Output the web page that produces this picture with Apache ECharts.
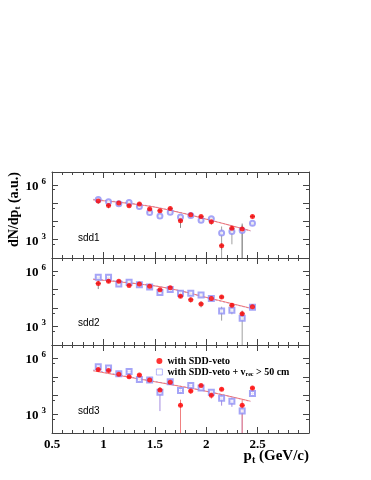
<!DOCTYPE html>
<html><head><meta charset="utf-8">
<script src="https://cdn.jsdelivr.net/npm/echarts@6/dist/echarts.min.js"></script>
<style>html,body{margin:0;padding:0;background:#fff}#c{width:371px;height:480px}</style>
</head><body><div id="c"></div>
<script>
// ---------- data ----------
const ptBins = [0.95,1.05,1.15,1.25,1.35,1.45,1.55,1.65,1.75,1.85,1.95,2.05,2.15,2.25,2.35,2.45];
const xTickValues = [0.5,1,1.5,2,2.5];
const xTickLabels = ['0.5','1','1.5','2','2.5'];
const yTickValues = [1e3,1e6];
const yTickExp = ['3','6'];
const panelNames = ['sdd1','sdd2','sdd3'];
const legendNames = ['with SDD-veto','with SDD-veto + v_rec > 50 cm'];

// with SDD-veto (red filled circles)
const vetoSdd1 = [1.29e5,7.4e4,1.0e5,7.1e4,8.9e4,4.7e4,3.8e4,5.1e4,1.1e4,2.3e4,1.86e4,9.5e3,470,4.2e3,3.8e3,1.86e4];
const vetoSdd2 = [2.1e5,2.8e5,2.8e5,1.66e5,1.95e5,1.51e5,9.5e4,1.23e5,4.3e4,2.8e4,1.66e4,3.2e4,3.9e4,1.41e4,4.8e3,1.17e4];
const vetoSdd3 = [2.45e5,2.2e5,1.38e5,1.0e5,1.26e5,6.8e4,2.0e4,5.1e4,3.0e3,1.74e4,3.4e4,1.05e4,2.2e4,null,3.0e3,2.5e4];
// with SDD-veto + v_rec > 50 cm (blue open markers)
const vetoRecSdd1 = [1.58e5,1.17e5,9.1e4,1.07e5,6.6e4,3.1e4,2.0e4,3.2e4,1.74e4,2.1e4,1.17e4,1.41e4,2.3e3,2.8e3,3.2e3,7.8e3];
const vetoRecSdd2 = [4.5e5,4.5e5,1.95e5,2.45e5,1.78e5,1.35e5,6.9e4,1.0e5,6.3e4,6.2e4,5.0e4,3.2e4,6.9e3,7.6e3,2.8e3,1.1e4];
const vetoRecSdd3 = [3.5e5,3.0e5,1.48e5,1.9e5,7.1e4,6.8e4,1.48e4,5.5e4,1.86e4,3.4e4,2.5e4,1.48e4,7.2e3,5.0e3,1.5e3,1.29e4];

// relative vertical errors
const vetoErr1 = [0.3,0.3,0.15,0.15,0.2,0.15,0.15,0.25,0.6,0.15,0.2,0.3,0.4,0.4,1.0,0.2];
const vetoErr2 = [0.5,0.2,0.15,0.15,0.15,0.15,0.15,0.2,0.2,0.3,0.35,0.2,0.2,0.3,0.5,0.2];
const vetoErr3 = [0.2,0.2,0.15,0.15,0.15,0.15,0.3,0.15,1.0,0.3,0.2,0.35,0.2,0,1.0,0.2];
const vetoRecErr1 = [0.2,0.15,0.15,0.15,0.15,0.15,0.15,0.15,0.2,0.15,0.2,0.2,1.3,0.8,1.0,0.2];
const vetoRecErr2 = [0.15,0.15,0.15,0.15,0.15,0.15,0.15,0.15,0.2,0.2,0.2,0.2,0.7,0.4,1.2,0.2];
const vetoRecErr3 = [0.15,0.15,0.15,0.15,0.15,0.15,0.9,0.15,0.3,0.2,0.2,0.2,0.6,0.5,1.2,0.2];

// fit curves
const fitPt = [0.9,1.35,1.65,2.05,2.43];
const fitVeto1 = [1.5e5,8.1e4,4.0e4,1.12e4,3.1e3];
const fitVeto2 = [3.5e5,1.95e5,1.1e5,3.2e4,9.8e3];
const fitVeto3 = [2.1e5,7.6e4,3.9e4,1.48e4,5.0e3];
const fitVetoRec1 = [1.6e5,8.4e4,4.1e4,1.15e4,3.0e3];
const fitVetoRec2 = [3.7e5,2.0e5,1.1e5,3.1e4,9.5e3];
const fitVetoRec3 = [2.3e5,8.0e4,4.0e4,1.5e4,4.8e3];

// ---------- build ----------
const Y_MIN = 100, Y_MAX = 5e6, X_MIN = 0.5, X_MAX = 3.0, HALF_BIN = 0.025;
const SERIF = '"Liberation Serif","Times New Roman",serif';
const SANS = '"Liberation Sans",Arial,sans-serif';
const BLUE = '#8f8ff5';
const panels = [
  {veto: vetoSdd1, rec: vetoRecSdd1, vErr: vetoErr1, rErr: vetoRecErr1, fv: fitVeto1, fr: fitVetoRec1, recSymbol:'emptyCircle',
   vBar:'#8a8a8a', rBar:'#a0a0a0'},
  {veto: vetoSdd2, rec: vetoRecSdd2, vErr: vetoErr2, rErr: vetoRecErr2, fv: fitVeto2, fr: fitVetoRec2, recSymbol:'emptyRect',
   vBar:'#8a8a8a', rBar:'#a0a0a0'},
  {veto: vetoSdd3, rec: vetoRecSdd3, vErr: vetoErr3, rErr: vetoRecErr3, fv: fitVeto3, fr: fitVetoRec3, recSymbol:'emptyRect',
   vBar:'#f08080', rBar:'#a58be0'}
];
const grids = [
  {left:52, right:62, top:172, height:86},
  {left:52, right:62, top:258, height:87},
  {left:52, right:62, top:345, height:88}
];

const xAxes = [], yAxes = [], series = [];
const axisLineStyle = {color:'#444', width:1};
panels.forEach((p, i) => {
  ['bottom','top'].forEach(pos => {
    xAxes.push({
      gridIndex:i, type:'value', min:X_MIN, max:X_MAX, interval:0.5, position:pos,
      axisLine:{show:true, onZero:false, lineStyle:axisLineStyle},
      axisTick:{show:true, inside:true, length:6, lineStyle:{color:'#444'}},
      minorTick:{show:true, splitNumber:5, length:3, lineStyle:{color:'#444'}},
      splitLine:{show:false},
      axisLabel:{show: i===2 && pos==='bottom', margin:5, color:'#000',
        fontFamily:SERIF, fontWeight:'bold', fontSize:13,
        formatter: v => { const k = xTickValues.findIndex(t => Math.abs(t - v) < 1e-6); return k >= 0 ? xTickLabels[k] : ''; }}
    });
  });
  ['left','right'].forEach(pos => {
    yAxes.push({
      gridIndex:i, type:'log', logBase:10, min:Y_MIN, max:Y_MAX, position:pos,
      axisLine:{show:true, onZero:false, lineStyle:axisLineStyle},
      axisTick:{show:true, inside:true, length:6, lineStyle:{color:'#444'}},
      minorTick:{show:true, splitNumber:2, length:3, lineStyle:{color:'#444'}},
      splitLine:{show:false},
      axisLabel:{show: pos==='left', margin:6, color:'#000',
        formatter: v => { const k = yTickValues.findIndex(t => Math.abs(Math.log10(v) - Math.log10(t)) < 0.01); return k >= 0 ? '{b|10}{s|' + yTickExp[k] + '}' : ''; },
        rich:{ b:{fontFamily:SERIF, fontWeight:'bold', fontSize:13, lineHeight:16, verticalAlign:'bottom'},
               s:{fontFamily:SERIF, fontWeight:'bold', fontSize:9, lineHeight:9, verticalAlign:'top', padding:[0,0,0,3]} }}
    });
  });
  const xa = i*2, ya = i*2;
  const errData = (vals, errs) => vals.map((v, k) => {
    if (v == null) return null;
    const s = errs[k] * v;
    return [ptBins[k], v, Math.max(Y_MIN, v - s), Math.min(Y_MAX, v + s)];
  }).filter(d => d);
  const errRender = (color) => (params, api) => {
    const x = api.value(0), y = api.value(1), lo = api.value(2), hi = api.value(3);
    const c = api.coord([x, y]);
    const l = api.coord([x - HALF_BIN, y]), r = api.coord([x + HALF_BIN, y]);
    const t = api.coord([x, hi]), b = api.coord([x, lo]);
    return {type:'group', children:[
      {type:'line', shape:{x1:l[0], y1:c[1], x2:r[0], y2:c[1]}, style:{stroke:color, lineWidth:1}},
      {type:'line', shape:{x1:c[0], y1:t[1], x2:c[0], y2:b[1]}, style:{stroke:color, lineWidth:1}}
    ]};
  };
  series.push({type:'custom', name:'errRec'+i, xAxisIndex:xa, yAxisIndex:ya, renderItem:errRender(p.rBar),
    data:errData(p.rec, p.rErr), silent:true, z:1});
  series.push({type:'custom', name:'errVeto'+i, xAxisIndex:xa, yAxisIndex:ya, renderItem:errRender(p.vBar),
    data:errData(p.veto, p.vErr), silent:true, z:1});
  series.push({type:'line', name:'fitRec'+i, xAxisIndex:xa, yAxisIndex:ya, smooth:true, showSymbol:false, symbol:'none',
    data:fitPt.map((x,k)=>[x, p.fr[k]]), lineStyle:{color:'#a5a5f2', width:1, type:[2,2]}, z:2, silent:true});
  series.push({type:'line', name:'fitVeto'+i, xAxisIndex:xa, yAxisIndex:ya, smooth:true, showSymbol:false, symbol:'none',
    data:fitPt.map((x,k)=>[x, p.fv[k]]), lineStyle:{color:'#f27272', width:1}, z:2, silent:true});
  series.push({type:'scatter', name:legendNames[1], xAxisIndex:xa, yAxisIndex:ya, symbol:p.recSymbol, symbolSize:5,
    itemStyle:{color:BLUE, borderWidth:0.8}, data:ptBins.map((x,k)=>[x, p.rec[k]]).filter(d=>d[1]!=null), z:3});
  series.push({type:'scatter', name:legendNames[0], xAxisIndex:xa, yAxisIndex:ya, symbol:'circle', symbolSize:5,
    itemStyle:{color:'#ff0000'}, data:ptBins.map((x,k)=>[x, p.veto[k]]).filter(d=>d[1]!=null), z:4});
});

const graphic = [];
panelNames.forEach((n, i) => {
  graphic.push({type:'text', left:78, top: grids[i].top + [61, 60, 61][i],
    style:{text:n, font:'10px ' + SANS, fill:'#000'}});
});
graphic.push({type:'text', x:14, y:172, rotation:Math.PI/2,
  style:{text:'{a|dN/dp}{s|t}{a| (a.u.)}', align:'right', verticalAlign:'middle',
    rich:{a:{fontFamily:SERIF, fontWeight:'bold', fontSize:14, lineHeight:16, fill:'#000'},
          s:{fontFamily:SERIF, fontWeight:'bold', fontSize:9, lineHeight:16, verticalAlign:'bottom', padding:[6,0,0,0], fill:'#000'}}}});
graphic.push({type:'text', x:309, y:456,
  style:{text:'{a|p}{s|t}{a| (GeV/c)}', align:'right', verticalAlign:'middle',
    rich:{a:{fontFamily:SERIF, fontWeight:'bold', fontSize:15, lineHeight:18, fill:'#000'},
          s:{fontFamily:SERIF, fontWeight:'bold', fontSize:10, lineHeight:18, verticalAlign:'bottom', padding:[7,0,0,0], fill:'#000'}}}});

const chart = echarts.init(document.getElementById('c'), null, {renderer:'canvas'});
chart.setOption({
  animation:false,
  backgroundColor:'#fff',
  grid:grids,
  xAxis:xAxes,
  yAxis:yAxes,
  legend:{
    left:151, top:351, orient:'vertical', itemGap:1, itemWidth:6, itemHeight:6,
    data:[
      {name:legendNames[0], icon:'circle', itemStyle:{color:'#ff0000'}},
      {name:legendNames[1], icon:'rect', itemStyle:{color:'#ffffff', borderColor:BLUE, borderWidth:0.8}}
    ],
    selectedMode:false,
    formatter: name => name === legendNames[1]
      ? '{a|with SDD-veto + v}{s|rec}{a| > 50 cm}'
      : '{a|' + name + '}',
    textStyle:{rich:{
      a:{fontFamily:SERIF, fontWeight:'bold', fontSize:10, lineHeight:11, color:'#000'},
      s:{fontFamily:SERIF, fontWeight:'bold', fontSize:6, lineHeight:11, verticalAlign:'bottom', padding:[4,0,0,0], color:'#000'}
    }}
  },
  graphic:graphic,
  series:series
});
</script>
</body></html>
